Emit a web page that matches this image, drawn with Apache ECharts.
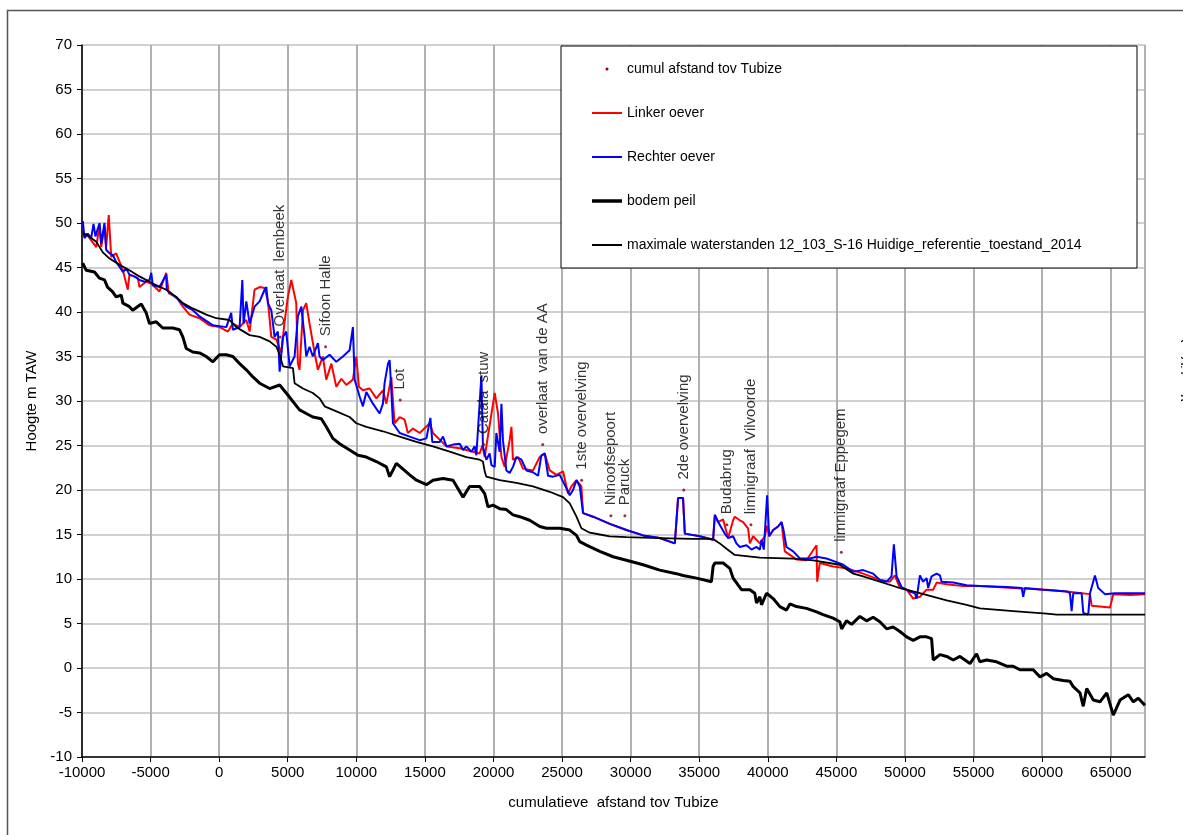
<!DOCTYPE html>
<html>
<head>
<meta charset="utf-8">
<style>
  html, body { margin: 0; padding: 0; background: #fff; }
  #chart { width: 1183px; height: 835px; }
</style>
</head>
<body>
<div id="chart"></div>
<script src="https://cdn.jsdelivr.net/npm/echarts@6/dist/echarts.min.js"></script>
<script type="text/javascript">
// afstand (m), hoogte (m TAW)
var linkerOever = [
  [-9940,48.5],[-9690,48.8],[-8960,47.3],[-8720,49.8],[-8600,47.3],[-8360,49.6],[-8240,47.3],[-8050,50.9],[-7870,46.2],
  [-7510,46.6],[-7020,44.7],[-6660,42.5],[-6540,44.2],[-5930,43.8],[-5810,42.8],[-5320,43.4],[-4950,43.2],[-4350,42.3],
  [-3860,44.4],[-3670,42.1],[-3130,41.7],[-2650,40.6],[-2160,39.7],[-1430,39.3],[-700,38.5],[30,38.3],[640,37.8],[1000,38.7],
  [1490,38.3],[1980,39.1],[2220,37.8],[2580,42.5],[2950,42.8],[3310,42.7],[3550,41.3],[3800,37.2],[4170,36.9],[4530,35.4],
  [4770,38.9],[5010,41.7],[5260,43.6],[5380,43.8],[5620,41.0],[5740,34.2],[5860,33.5],[6110,40.2],[6350,41.0],[6590,38.7],
  [6960,35.4],[7200,33.5],[7560,35.0],[7810,32.4],[8180,34.2],[8540,31.6],[8910,32.5],[9270,31.8],[9750,32.4],[10000,35.0],
  [10190,31.6],[10480,31.2],[10970,31.4],[11460,30.3],[11940,31.2],[12190,29.7],[12550,32.7],[12790,27.5],[13160,28.2],
  [13520,27.9],[13760,26.4],[14130,26.9],[14620,26.4],[15350,27.5],[15590,26.4],[16570,24.9],[17540,24.7],[18510,24.3],
  [18990,24.1],[19190,25.0],[19360,23.7],[19480,24.9],[20090,30.9],[20330,28.6],[20580,23.7],[20820,22.6],[21180,25.6],
  [21310,27.1],[21420,23.4],[21790,23.7],[22150,22.4],[22880,22.2],[23370,23.7],[23740,24.1],[24100,22.2],[24590,21.7],
  [25070,22.1],[25430,19.6],[25680,20.4],[26050,21.1],[26410,20.4],[26530,17.4],[27260,17.0],[28480,16.2],[29690,15.5],
  [30910,14.9],[32120,14.6],[33220,14.0],[33460,19.1],[33820,19.1],[33950,15.1],[35040,14.8],[36010,14.4],[36140,17.2],
  [36380,16.4],[36740,16.7],[37110,14.6],[37470,16.6],[37590,17.0],[37960,16.6],[38200,16.4],[38560,15.7],[38690,14.0],
  [38930,14.8],[39420,14.0],[39780,14.8],[39950,16.0],[40100,14.8],[40390,15.5],[40750,15.9],[41000,16.4],[41240,13.1],
  [42090,12.2],[42820,12.1],[43550,13.8],[43600,9.7],[43790,11.8],[44760,11.4],[45740,11.2],[46950,10.6],[48170,9.9],
  [48900,9.7],[49260,10.4],[49630,9.0],[50120,8.8],[50600,7.8],[51090,8.0],[51580,8.8],[52060,8.8],[52310,9.6],[53040,9.4],
  [54250,9.2],[55460,9.2],[57890,9.0],[60330,8.8],[61790,8.6],[63490,8.3],[63610,7.0],[64950,6.8],[65190,8.3],[66400,8.2],
  [67500,8.3]
];
var rechterOever = [
  [-9940,50.2],[-9820,48.3],[-9580,48.8],[-9330,48.3],[-9160,49.9],[-9020,48.5],[-8720,50.0],[-8600,47.7],[-8360,50.0],
  [-8240,47.0],[-7990,46.6],[-7750,46.4],[-7510,45.6],[-7270,45.1],[-7020,44.5],[-6780,44.9],[-6540,44.2],[-6170,44.0],
  [-5810,43.6],[-5440,43.4],[-5080,43.6],[-4950,44.4],[-4840,43.0],[-4350,42.8],[-3860,44.2],[-3820,42.5],[-3380,41.9],
  [-2890,41.3],[-2400,40.6],[-1920,40.2],[-1430,39.5],[-460,38.5],[520,38.3],[880,39.9],[1000,38.0],[1490,38.3],[1690,43.6],
  [1780,38.7],[1980,41.2],[2220,38.7],[2580,40.6],[2950,41.2],[3310,42.5],[3440,42.8],[3550,41.0],[3800,40.2],[4040,37.2],
  [4280,37.8],[4410,33.3],[4650,37.2],[4890,37.8],[5140,33.9],[5500,35.0],[5740,39.5],[5990,40.6],[6230,37.2],[6350,35.0],
  [6590,36.1],[6830,35.0],[7200,36.5],[7320,35.0],[7560,34.6],[8050,35.2],[8540,34.4],[9020,35.0],[9510,35.7],[9750,38.3],
  [9880,32.4],[10240,30.5],[10480,29.4],[10730,31.0],[11210,29.7],[11700,28.6],[11940,29.7],[12060,32.0],[12310,34.2],
  [12430,34.6],[12550,31.2],[12670,27.5],[13160,26.4],[13890,26.0],[14620,25.6],[15110,25.8],[15400,28.1],[15540,25.4],
  [16080,25.4],[16320,26.0],[16570,24.9],[17050,25.1],[17540,25.2],[17780,24.5],[18020,24.9],[18390,24.3],[18630,24.9],
  [18750,23.9],[18990,29.7],[19120,32.9],[19230,24.9],[19480,23.4],[19720,24.1],[19850,22.8],[20090,22.6],[20210,26.4],
  [20450,24.3],[20580,29.7],[20690,25.6],[20940,22.2],[21180,21.9],[21420,22.6],[21670,23.7],[22040,23.4],[22400,22.2],
  [22880,22.0],[23250,21.6],[23490,23.9],[23740,24.1],[23980,21.6],[24340,21.5],[24830,21.7],[25320,20.2],[25560,19.4],
  [25800,20.0],[26050,21.1],[26290,20.4],[26410,20.4],[26530,17.4],[27260,17.0],[28480,16.2],[29690,15.5],[30910,14.9],
  [32120,14.6],[33220,14.0],[33460,19.1],[33820,19.1],[33950,15.1],[35040,14.8],[36010,14.4],[36140,17.2],[36380,16.4],
  [36860,15.1],[37110,14.6],[37470,14.8],[37710,14.0],[37960,13.6],[38450,13.8],[38810,13.3],[39180,13.6],[39420,13.3],
  [39540,14.4],[39710,13.3],[39950,19.4],[40100,14.8],[40390,15.5],[40750,15.9],[41000,16.4],[41120,15.7],[41360,13.6],
  [41850,13.1],[42340,12.3],[43060,12.3],[43550,12.5],[44280,12.3],[45010,11.9],[45500,11.6],[46230,10.8],[46950,11.0],
  [47680,10.6],[48170,9.9],[48660,9.7],[49020,10.3],[49190,13.9],[49390,10.3],[49750,9.1],[50360,8.6],[50720,8.4],
  [50850,7.8],[51090,10.4],[51330,9.7],[51580,10.1],[51690,9.0],[51940,10.3],[52310,10.6],[52550,10.4],[52670,9.7],
  [53520,9.6],[54490,9.3],[55460,9.2],[57410,9.1],[58510,9.0],[58620,8.0],[58750,9.0],[60080,8.8],[61790,8.6],[62030,8.4],
  [62150,6.4],[62270,8.4],[62880,8.4],[63000,6.2],[63360,6.0],[63490,8.4],[63850,10.4],[64090,9.0],[64580,8.3],[65310,8.4],
  [66400,8.4],[67500,8.4]
];
var bodemPeil = [
  [-9950,45.5],[-9700,44.7],[-9090,44.5],[-8720,43.8],[-8360,43.6],[-8140,42.8],[-7780,42.3],[-7510,41.7],[-7140,41.9],
  [-7020,41.0],[-6540,40.6],[-6300,40.2],[-5680,40.9],[-5320,39.9],[-5080,38.7],[-4590,38.9],[-4110,38.2],[-3380,38.2],
  [-2890,38.0],[-2650,37.2],[-2400,35.9],[-1920,35.5],[-1430,35.4],[-940,35.0],[-460,34.4],[30,35.2],[520,35.2],[1000,35.0],
  [1490,34.2],[1980,33.5],[2460,32.7],[2950,32.0],[3680,31.4],[4410,31.8],[4890,30.9],[5860,29.0],[6350,28.6],[6830,28.2],
  [7450,28.0],[7810,27.1],[8290,25.8],[8780,25.2],[9510,24.5],[10120,23.9],[10730,23.7],[11460,23.2],[12190,22.6],
  [12430,21.5],[12920,23.0],[13890,21.7],[14380,21.1],[15110,20.6],[15590,21.1],[16320,21.3],[17050,21.1],[17780,19.2],
  [18260,20.4],[18990,20.4],[19360,19.6],[19600,18.1],[19960,18.3],[20450,17.9],[20940,17.8],[21420,17.2],[21910,17.0],
  [22640,16.6],[23370,15.9],[23860,15.7],[24830,15.7],[25560,15.5],[26050,14.9],[26290,14.2],[26780,13.8],[27750,13.1],
  [28720,12.5],[29690,12.1],[30910,11.6],[32120,11.0],[33340,10.6],[33460,10.8],[33820,10.4],[34800,10.1],[35890,9.7],
  [36010,11.4],[36140,11.8],[36740,11.8],[37230,11.2],[37470,10.1],[38080,8.8],[38690,8.8],[39050,8.4],[39180,7.3],
  [39420,8.0],[39540,7.1],[39910,8.4],[40390,7.8],[40880,6.9],[41360,6.5],[41610,7.2],[42090,6.9],[42820,6.7],[43550,6.3],
  [44030,6.0],[44760,5.6],[45250,5.2],[45380,4.4],[45740,5.3],[46110,4.9],[46710,5.8],[47200,5.3],[47680,5.7],[48170,5.2],
  [48660,4.4],[49140,4.6],[49630,4.1],[50120,3.5],[50600,3.1],[51090,3.5],[51580,3.5],[51940,3.3],[52060,0.9],[52550,1.5],
  [53040,1.3],[53520,0.9],[54010,1.3],[54740,0.5],[55220,1.6],[55460,0.7],[55950,0.9],[56680,0.7],[57410,0.2],[57890,0.2],
  [58380,-0.2],[59350,-0.2],[59840,-1.0],[60330,-0.6],[60810,-1.2],[61540,-1.4],[62030,-1.5],[62270,-2.1],[62760,-2.8],
  [63000,-4.3],[63250,-2.3],[63730,-3.6],[64220,-3.8],[64710,-2.8],[65190,-5.3],[65680,-3.6],[66280,-3.0],[66650,-3.8],
  [67010,-3.4],[67500,-4.2]
];
var maxWaterstanden = [
  [-9940,48.8],[-9580,48.6],[-8960,47.9],[-8480,46.7],[-7990,46.0],[-7270,45.3],[-6540,44.7],[-5810,44.0],[-4840,43.2],
  [-3860,42.5],[-3130,41.7],[-2650,41.0],[-1920,40.4],[-940,39.7],[-210,39.3],[760,39.1],[1250,38.3],[2220,37.4],[2950,37.2],
  [3680,36.7],[4170,36.1],[4410,35.2],[4650,33.9],[5380,33.7],[5500,32.0],[6110,31.4],[6830,30.9],[7320,30.3],[7690,29.4],
  [8290,29.0],[9510,28.2],[10000,27.5],[10730,27.1],[11940,26.6],[13160,26.0],[14380,25.4],[15590,24.9],[16810,24.3],
  [18020,23.7],[18990,23.4],[19230,23.2],[19360,22.1],[19480,21.5],[20450,21.1],[21670,20.8],[22880,20.4],[24100,19.8],
  [25070,19.2],[25560,18.5],[26050,17.0],[26410,15.7],[27020,15.2],[27750,15.0],[28480,14.8],[29690,14.7],[32120,14.6],
  [34550,14.5],[36010,14.5],[36500,14.0],[36990,13.4],[37590,12.7],[39420,12.4],[41850,12.3],[43310,12.1],[45250,11.6],
  [46230,10.6],[46950,10.3],[48170,9.7],[49390,9.1],[50600,8.6],[51820,8.1],[53040,7.6],[54490,7.1],[55460,6.7],[57890,6.4],
  [60330,6.1],[61060,6.0],[62760,6.0],[67500,6.0]
];
// cumul afstand tov Tubize: naam, afstand, hoogte
var puntNamen = ['Overlaat  lembeek','Sifoon Halle','Lot','Catala  stuw','overlaat  van de AA','1ste overvelving',
  'Ninoofsepoort','Paruck','2de overvelving','Budabrug','limnigraaf  Vilvoorde','limnigraaf Eppegem'];
var puntAfstand = [4450, 7760, 13200, 19280, 23590, 26430, 28560, 29580, 33870, 37020, 38770, 45360];
var puntHoogte = [37.2, 36.1, 30.1, 25.1, 25.1, 21.1, 17.1, 17.1, 20.0, 16.1, 16.1, 13.0];

var xTicks = { min: -10000, max: 67500, interval: 5000 };
var yTicks = { min: -10, max: 70, interval: 5 };

var legendNamen = ['cumul afstand tov Tubize', 'Linker oever', 'Rechter oever', 'bodem peil',
  'maximale waterstanden 12_103_S-16 Huidige_referentie_toestand_2014'];

var FONT = '"Liberation Sans", Arial, sans-serif';
var myChart = echarts.init(document.getElementById('chart'), null, { renderer: 'canvas' });

var punten = [];
for (var i = 0; i < puntNamen.length; i++) {
  punten.push({ name: puntNamen[i], value: [puntAfstand[i], puntHoogte[i]] });
}

// legende (zoals in excel)
var lx = 561, ly = 46, lw = 576, lh = 222;
var legendGraphic = [
  { type: 'rect', z: 100, shape: { x: lx, y: ly, width: lw, height: lh }, style: { fill: '#fff', stroke: '#000', lineWidth: 1 } },
  { type: 'circle', z: 101, shape: { cx: 607, cy: 69, r: 1.5 }, style: { fill: '#8b0000' } },
  { type: 'line', z: 101, shape: { x1: 592, y1: 113, x2: 622, y2: 113 }, style: { stroke: '#ff0000', lineWidth: 2 } },
  { type: 'line', z: 101, shape: { x1: 592, y1: 157, x2: 622, y2: 157 }, style: { stroke: '#0000ff', lineWidth: 2 } },
  { type: 'line', z: 101, shape: { x1: 592, y1: 201, x2: 622, y2: 201 }, style: { stroke: '#000', lineWidth: 3.5 } },
  { type: 'line', z: 101, shape: { x1: 592, y1: 245, x2: 622, y2: 245 }, style: { stroke: '#000', lineWidth: 2 } }
];
for (var k = 0; k < legendNamen.length; k++) {
  legendGraphic.push({
    type: 'text', z: 101,
    style: { x: 627, y: 69 + k * 44, text: legendNamen[k], font: '14px ' + FONT, fill: '#000', verticalAlign: 'middle' }
  });
}
// rand rond de figuur
legendGraphic.push({ type: 'rect', z: -1, silent: true, shape: { x: 7.5, y: 10.5, width: 1300, height: 900 },
  style: { fill: 'none', stroke: '#555', lineWidth: 1.5 } });
// afgesneden tekst van de secundaire as
legendGraphic.push({ type: 'text', z: 101, x: 1186, y: 370, rotation: Math.PI / 2,
  style: { text: 'Verschil (cm)', font: 'bold 10px ' + FONT, fill: '#000', align: 'center', verticalAlign: 'middle' } });

var option = {
  animation: false,
  backgroundColor: '#fff',
  textStyle: { fontFamily: FONT },
  grid: { left: 82, right: 38, top: 45, bottom: 78, containLabel: false },
  graphic: legendGraphic,
  xAxis: {
    type: 'value',
    min: xTicks.min, max: xTicks.max, interval: xTicks.interval,
    name: 'cumulatieve  afstand tov Tubize',
    nameLocation: 'middle', nameGap: 38,
    nameTextStyle: { fontSize: 15, color: '#000', fontFamily: FONT },
    axisLine: { onZero: false, lineStyle: { color: '#000', width: 1.5 } },
    axisTick: { show: true, length: 5, lineStyle: { color: '#000' } },
    axisLabel: {
      fontSize: 15, color: '#000', margin: 8, showMaxLabel: false, fontFamily: FONT,
      formatter: function (v) { return String(v); }
    },
    splitLine: { show: true, lineStyle: { color: '#b0b0b0', width: 2 } }
  },
  yAxis: {
    type: 'value',
    min: yTicks.min, max: yTicks.max, interval: yTicks.interval,
    name: 'Hoogte m TAW',
    nameLocation: 'middle', nameGap: 36,
    nameTextStyle: { fontSize: 15, color: '#000', fontFamily: FONT },
    axisLine: { show: true, onZero: false, lineStyle: { color: '#000', width: 1.5 } },
    axisTick: { show: true, length: 5, lineStyle: { color: '#000' } },
    axisLabel: { fontSize: 15, color: '#000', margin: 10, fontFamily: FONT },
    splitLine: { show: true, lineStyle: { color: '#d0d0d0', width: 2 } }
  },
  series: [
    {
      name: legendNamen[1], type: 'line', data: linkerOever, symbol: 'none',
      lineStyle: { color: '#ff0000', width: 2 }, z: 3
    },
    {
      name: legendNamen[2], type: 'line', data: rechterOever, symbol: 'none',
      lineStyle: { color: '#0000ff', width: 2 }, z: 4
    },
    {
      name: legendNamen[3], type: 'line', data: bodemPeil, symbol: 'none',
      lineStyle: { color: '#000', width: 3 }, z: 5
    },
    {
      name: legendNamen[4], type: 'line', data: maxWaterstanden, symbol: 'none',
      lineStyle: { color: '#000', width: 1.8 }, z: 6
    },
    {
      name: legendNamen[0], type: 'scatter', data: punten, symbol: 'circle', symbolSize: 3,
      itemStyle: { color: '#8b0000' }, z: 7,
      label: {
        show: true, formatter: '{b}', position: 'top', distance: 9, rotate: 90,
        align: 'left', verticalAlign: 'middle', fontSize: 15, color: '#000', fontFamily: FONT
      }
    }
  ]
};
myChart.setOption(option);
</script>
</body>
</html>
